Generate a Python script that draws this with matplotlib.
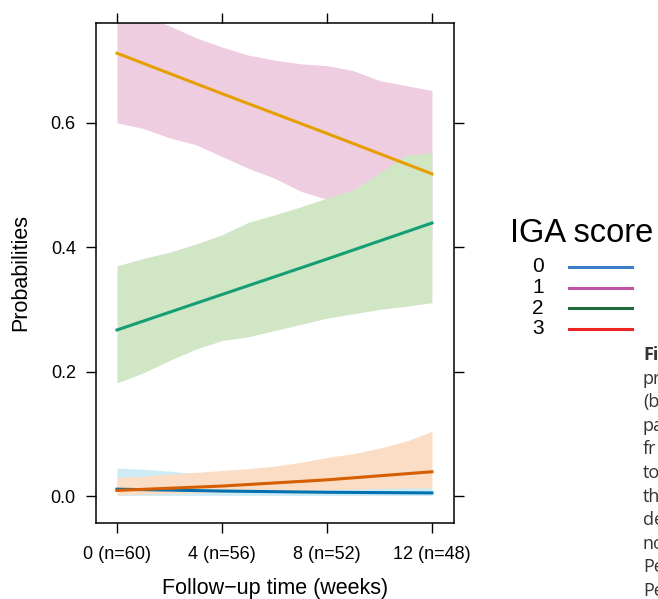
"""
Predicted IGA score probabilities over follow-up time
"""
import numpy as np
import matplotlib
matplotlib.use('Agg')
import matplotlib.pyplot as plt

plt.rcParams['font.family'] = ['Liberation Sans', 'DejaVu Sans']

# weeks at which the model predictions are shown
weeks_line = [0, 4, 8, 12]
week_labels = ['0 (n=60)', '4 (n=56)', '8 (n=52)', '12 (n=48)']

# predicted probability per IGA score
p0 = [0.011, 0.008, 0.006, 0.005]
p1 = [0.712, 0.647, 0.583, 0.518]
p2 = [0.267, 0.324, 0.381, 0.439]
p3 = [0.009, 0.016, 0.026, 0.039]

# confidence bands, read weekly
weeks_band = list(range(13))
lo0 = [0.001, 0.001, 0.001, 0.001, 0.001, 0.001, 0.001, 0.001, 0.001, 0.001, 0.001, 0.001, 0.001]
hi0 = [0.045, 0.043, 0.040, 0.036, 0.033, 0.029, 0.026, 0.023, 0.021, 0.019, 0.017, 0.016, 0.015]
lo1 = [0.600, 0.591, 0.576, 0.565, 0.546, 0.527, 0.511, 0.490, 0.477, 0.462, 0.446, 0.430, 0.415]
hi1 = [0.790, 0.772, 0.756, 0.737, 0.722, 0.709, 0.701, 0.695, 0.692, 0.684, 0.668, 0.660, 0.652]
lo2 = [0.182, 0.198, 0.218, 0.236, 0.250, 0.256, 0.266, 0.276, 0.286, 0.293, 0.300, 0.305, 0.311]
hi2 = [0.370, 0.382, 0.392, 0.405, 0.420, 0.440, 0.452, 0.465, 0.479, 0.492, 0.520, 0.548, 0.552]
lo3 = [0.002, 0.003, 0.004, 0.005, 0.006, 0.007, 0.008, 0.009, 0.010, 0.011, 0.012, 0.013, 0.013]
hi3 = [0.030, 0.032, 0.035, 0.038, 0.041, 0.044, 0.048, 0.054, 0.062, 0.068, 0.077, 0.088, 0.104]

legend_scores = ['0', '1', '2', '3']
legend_colors = ['#3d7cc6', '#c052a6', '#1f6b3b', '#ee2424']

caption = ['Fi', 'pr', '(b', 'pa', 'fr', 'to', 'th', 'de', 'no', 'Pe', 'Pe']

fig = plt.figure(figsize=(6.58, 5.99), dpi=100)
ax = fig.add_axes([96 / 658, 1 - 523 / 599, (454 - 96) / 658, (523 - 22.5) / 599])

ax.fill_between(weeks_band, lo1, hi1, color='#efcde1', lw=0)
ax.fill_between(weeks_band, lo2, hi2, color='#d0e6c5', lw=0)
ax.fill_between(weeks_band, lo0, hi0, color='#cdebf5', lw=0)
ax.fill_between(weeks_band, lo3, hi3, color='#fbddc5', lw=0)

ax.plot(weeks_line, p1, color='#e69f00', lw=2.2)
ax.plot(weeks_line, p2, color='#159e74', lw=2.2)
ax.plot(weeks_line, p0, color='#0072b2', lw=2.2)
ax.plot(weeks_line, p3, color='#d55e00', lw=2.2)

ax.set_xlim(-0.8, 12.84)
ax.set_ylim(-0.0434, 0.7614)
ax.set_xticks(weeks_line)
ax.set_xticklabels(week_labels)
ax.set_yticks([0.0, 0.2, 0.4, 0.6])
ax.set_yticklabels(['0.0', '0.2', '0.4', '0.6'])
ax.tick_params(direction='out', length=7.5, width=1, top=True, right=True,
               labelsize=13, pad=7)
ax.tick_params(axis='x', pad=9)
for s in ax.spines.values():
    s.set_linewidth(1.1)

ax.set_xlabel('Follow\u2212up time (weeks)', fontsize=15.5, labelpad=11)
ax.set_ylabel('Probabilities', fontsize=15.5, labelpad=14)

# legend drawn by hand, lattice style
fig.text(582 / 658, 1 - 233 / 599, 'IGA score', fontsize=23.5,
         ha='center', va='center')
for i, (lab, col) in enumerate(zip(legend_scores, legend_colors)):
    y = 1 - (267 + 20.5 * i) / 599
    fig.text(538 / 658, y, lab, fontsize=15, ha='center', va='center')
    fig.add_artist(plt.Line2D([569 / 658, 632 / 658], [y, y], color=col, lw=2.2))

# cropped caption at the right edge
for i, line in enumerate(caption):
    fig.text(643 / 658, 1 - (355 + 23.6 * i) / 599, line, fontsize=13,
             family=['Open Sans', 'DejaVu Sans'], color='#333333',
             weight='bold' if i == 0 else 'normal', ha='left', va='center')

fig.savefig('out.png', dpi=100)
